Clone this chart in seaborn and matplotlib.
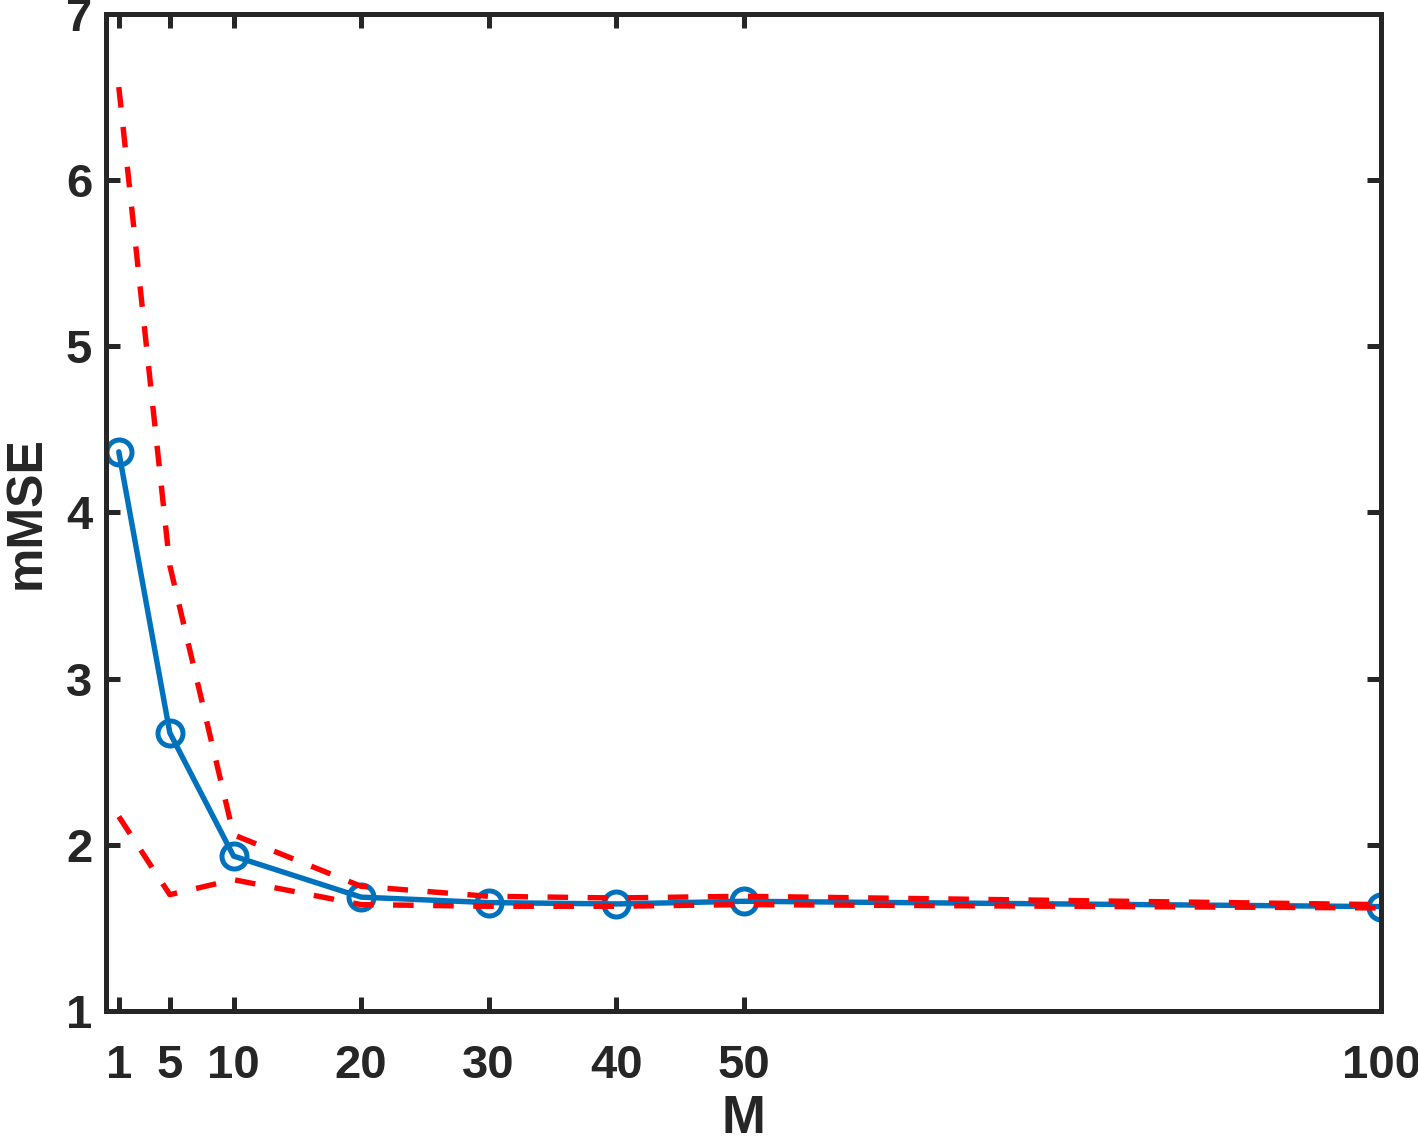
import pandas as pd
import seaborn as sns
import matplotlib.pyplot as plt

# data
M = [1, 5, 10, 20, 30, 40, 50, 100]
mmse = [4.365, 2.674, 1.932, 1.685, 1.652, 1.644, 1.660, 1.628]
upper = [6.56, 3.68, 2.06, 1.75, 1.69, 1.68, 1.69, 1.64]
lower = [2.17, 1.70, 1.79, 1.64, 1.63, 1.63, 1.64, 1.62]
xticks = [1, 5, 10, 20, 30, 40, 50, 100]
yticks = [1, 2, 3, 4, 5, 6, 7]

df = pd.DataFrame({'M': M, 'mMSE': mmse, 'upper': upper, 'lower': lower})

sns.set_theme(style="ticks")
plt.rcParams['font.family'] = ['Liberation Sans', 'DejaVu Sans']
plt.rcParams['font.weight'] = 'bold'
dark = '#262626'

fig = plt.figure(figsize=(14.18, 11.44), dpi=100)
ax = fig.add_axes([0.0748, 0.1163, 0.974 - 0.0748, 0.9878 - 0.1163])

sns.lineplot(data=df, x='M', y='mMSE', ax=ax, color='#0072BD', linewidth=3.9,
             marker='o', markersize=18, markerfacecolor='none',
             markeredgecolor='#0072BD', markeredgewidth=3.6, zorder=2)
for col in ['upper', 'lower']:
    sns.lineplot(data=df, x='M', y=col, ax=ax, color='#FF0000', linewidth=3.9,
                 dashes=False, zorder=3)
for line in ax.lines[1:]:
    line.set_dashes([3.8, 3.6])

ax.set_xlim(0, 100)
ax.set_ylim(1, 7)
ax.set_xticks(xticks)
ax.set_yticks(yticks)
ax.tick_params(direction='in', length=10, width=3.6, colors=dark,
               labelsize=34, top=True, right=True)
ax.tick_params(axis='x', pad=24)
ax.tick_params(axis='y', pad=10)
for lab in ax.get_xticklabels() + ax.get_yticklabels():
    lab.set_fontweight('bold')
for s in ax.spines.values():
    s.set_linewidth(3.6)
    s.set_color(dark)
    s.set_visible(True)

ax.set_xlabel('M', fontsize=38, fontweight='bold', color=dark, labelpad=4)
ax.set_ylabel('mMSE', fontsize=36, fontweight='bold', color=dark, labelpad=12)

fig.savefig('out.png', dpi=100)
